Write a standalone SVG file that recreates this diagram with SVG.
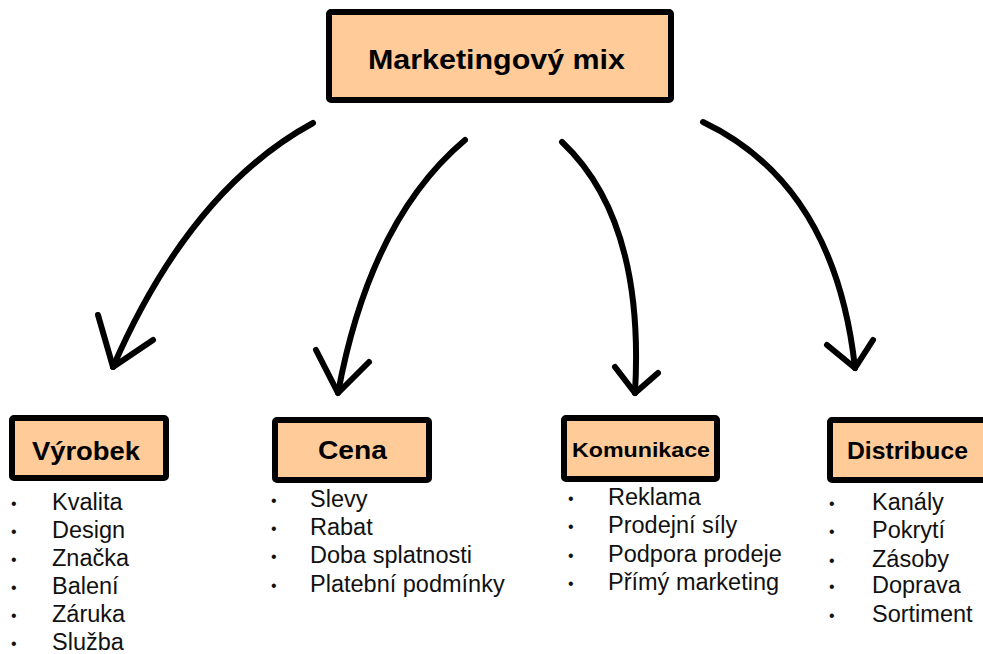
<svg xmlns="http://www.w3.org/2000/svg" width="983" height="654" viewBox="0 0 983 654">
<style>
.box{fill:#FFCC99;stroke:#000;stroke-width:6;}
.title{font-family:"Liberation Sans",Arial,sans-serif;font-weight:bold;fill:#000;text-anchor:middle;}
.item{font-family:"Liberation Sans",Arial,sans-serif;font-size:23.5px;fill:#111;}
.bul{font-family:"Liberation Sans",Arial,sans-serif;font-size:16px;fill:#111;}
.conn path,.conn polyline{fill:none;stroke:#000;stroke-width:6;stroke-linecap:round;stroke-linejoin:round;}
</style>
<rect width="983" height="654" fill="#fff"/>
<g id="node-mix">
<rect class="box" x="329" y="12" width="342" height="88" rx="2"/>
<text class="title" x="496.5" y="69" font-size="27.5" textLength="257" lengthAdjust="spacingAndGlyphs">Marketingový mix</text>
</g>
<g id="node-vyrobek">
<rect class="box" x="12" y="418" width="154" height="60" rx="2"/>
<text class="title" x="86" y="460" font-size="26.5" textLength="108" lengthAdjust="spacingAndGlyphs">Výrobek</text>
<text class="bul" x="11" y="509">•</text><text class="item" x="52" y="510">Kvalita</text>
<text class="bul" x="11" y="537">•</text><text class="item" x="52" y="538">Design</text>
<text class="bul" x="11" y="565">•</text><text class="item" x="52" y="566">Značka</text>
<text class="bul" x="11" y="593">•</text><text class="item" x="52" y="594">Balení</text>
<text class="bul" x="11" y="621">•</text><text class="item" x="52" y="622">Záruka</text>
<text class="bul" x="11" y="649">•</text><text class="item" x="52" y="650">Služba</text>
</g>
<g id="node-cena">
<rect class="box" x="275" y="420" width="154" height="60" rx="2"/>
<text class="title" x="352.5" y="459" font-size="25" textLength="69" lengthAdjust="spacingAndGlyphs">Cena</text>
<text class="bul" x="271" y="506">•</text><text class="item" x="310" y="507">Slevy</text>
<text class="bul" x="271" y="534">•</text><text class="item" x="310" y="535">Rabat</text>
<text class="bul" x="271" y="562">•</text><text class="item" x="310" y="563">Doba splatnosti</text>
<text class="bul" x="271" y="591">•</text><text class="item" x="310" y="592">Platební podmínky</text>
</g>
<g id="node-komunikace">
<rect class="box" x="564" y="418" width="153" height="61" rx="2"/>
<text class="title" x="641" y="457" font-size="21" textLength="138" lengthAdjust="spacingAndGlyphs">Komunikace</text>
<text class="bul" x="568" y="504">•</text><text class="item" x="608" y="505">Reklama</text>
<text class="bul" x="568" y="532">•</text><text class="item" x="608" y="533">Prodejní síly</text>
<text class="bul" x="568" y="561">•</text><text class="item" x="608" y="562">Podpora prodeje</text>
<text class="bul" x="568" y="589">•</text><text class="item" x="608" y="590">Přímý marketing</text>
</g>
<g id="node-distribuce">
<rect class="box" x="830" y="420" width="158" height="60" rx="2"/>
<text class="title" x="907.5" y="459" font-size="23.5" textLength="121" lengthAdjust="spacingAndGlyphs">Distribuce</text>
<text class="bul" x="829" y="509">•</text><text class="item" x="872" y="510">Kanály</text>
<text class="bul" x="829" y="537">•</text><text class="item" x="872" y="538">Pokrytí</text>
<text class="bul" x="829" y="566">•</text><text class="item" x="872" y="567">Zásoby</text>
<text class="bul" x="829" y="592">•</text><text class="item" x="872" y="593">Doprava</text>
<text class="bul" x="829" y="621">•</text><text class="item" x="872" y="622">Sortiment</text>
</g>
<g id="connectors" class="conn">
<path d="M313,123 Q190,190 113,367"/>
<polyline points="98,315 113,367 153,340"/>
<path d="M465,140 Q370,220 338,393"/>
<polyline points="316,350 338,393 369,362"/>
<path d="M562,142 Q645,220 635,393"/>
<polyline points="615,367 635,393 658,373"/>
<path d="M703,122 Q835,185 855,368"/>
<polyline points="827,345 855,368 873,340"/>
</g>
</svg>
